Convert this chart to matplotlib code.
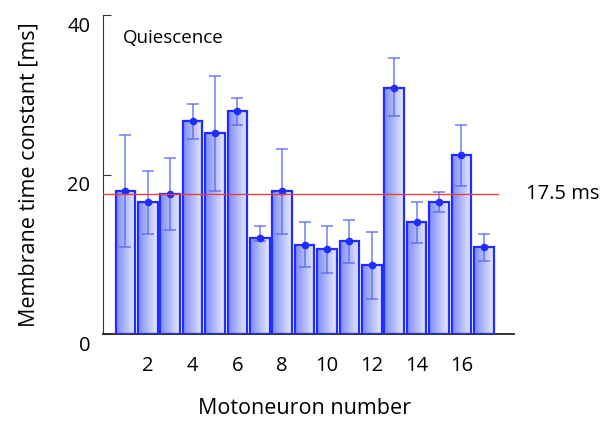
import numpy as np
import matplotlib
matplotlib.use("Agg")
import matplotlib.pyplot as plt
from matplotlib.colors import LinearSegmentedColormap
from matplotlib.transforms import ScaledTranslation

plt.rcParams["font.family"] = ["Open Sans", "DejaVu Sans"]

neurons = np.arange(1, 18)
tau_mean = [17.9, 16.5, 17.6, 26.7, 25.2, 28.0, 12.1, 17.9, 11.2, 10.6,
            11.6, 8.6, 30.9, 14.0, 16.6, 22.4, 10.9]
err_high = [24.9, 20.4, 22.1, 28.9, 32.3, 29.6, 13.5, 23.2, 14.1, 13.5,
            14.3, 12.8, 34.6, 16.5, 17.8, 26.2, 12.6]
err_low = [10.9, 12.5, 13.0, 24.4, 17.9, 26.2, 11.7, 12.6, 8.4, 7.6,
           8.9, 4.4, 27.3, 11.4, 15.3, 18.5, 9.2]
mean_tau = 17.5
xtick_vals = [2, 4, 6, 8, 10, 12, 14, 16]

fig = plt.figure(figsize=(6.04, 4.23), dpi=100)
ax = fig.add_axes([0.1705, 0.2104, 0.6805, 0.7541])

width = 0.87
grad = LinearSegmentedColormap.from_list("bargrad", ["#7f8cf5", "#e8ebff"])
gradient = np.linspace(0, 1, 64).reshape(1, -1)

bars = ax.bar(neurons, tau_mean, width=width, facecolor="none",
              edgecolor="#1f2dff", linewidth=1.6, zorder=3)
for b in bars:
    x0, w, h = b.get_x(), b.get_width(), b.get_height()
    im = ax.imshow(gradient, cmap=grad, aspect="auto",
                   extent=(x0, x0 + w, 0, h), zorder=2)
    im.set_clip_path(b)

lo = np.array(tau_mean) - np.array(err_low)
hi = np.array(err_high) - np.array(tau_mean)
ax.errorbar(neurons, tau_mean, yerr=[lo, hi], fmt="none", ecolor="#5a66f0",
            elinewidth=1.1, capsize=4, capthick=1.1, alpha=0.85, zorder=4)
ax.plot(neurons, tau_mean, "o", color="#1f2dff", markersize=4.5, zorder=5)

ax.plot([0, 17.65], [mean_tau, mean_tau], color="#f04040", linewidth=1.0, zorder=6)
ax.text(18.9, mean_tau, "17.5 ms", fontsize=14.5, va="center", ha="left",
        clip_on=False)
ax.text(0.89, 37.1, "Quiescence", fontsize=13.5, va="center", ha="left")

ax.set_xlim(0, 18.35)
ax.set_ylim(0, 40)
ax.set_xticks(xtick_vals)
ax.set_yticks([0, 20, 40])
ax.tick_params(axis="x", length=0, labelsize=14.5, pad=16)
ax.tick_params(axis="y", direction="in", length=6, labelsize=14.5, pad=9,
               color="#333333")
# y tick labels sit a little below their ticks in the original
shift = ScaledTranslation(0, -6.5 / 72, fig.dpi_scale_trans)
for lab in ax.get_yticklabels():
    lab.set_transform(lab.get_transform() + shift)
for s in ("top", "right"):
    ax.spines[s].set_visible(False)
ax.spines["left"].set_color("#333333")
ax.spines["bottom"].set_color("#222222")
ax.spines["bottom"].set_linewidth(1.3)

ax.set_xlabel("Motoneuron number", fontsize=15.5)
ax.set_ylabel("Membrane time constant [ms]", fontsize=15.5)
ax.xaxis.set_label_coords(0.49, -0.2)
ax.yaxis.set_label_coords(-0.155, 0.5)

fig.savefig("out.png", dpi=100)
